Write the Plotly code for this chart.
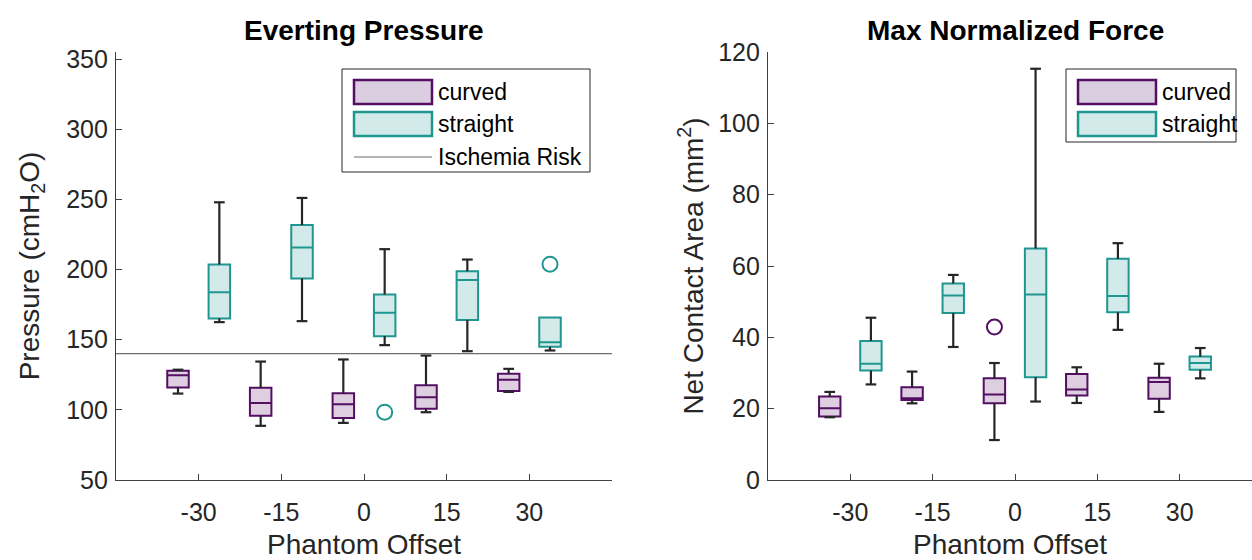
import plotly.graph_objects as go

# Phantom offsets (categories shared by both panels)
OFFSETS = [-30, -15, 0, 15, 30]
OFFSET_LABELS = ["-30", "-15", "0", "15", "30"]

# Everting pressure (cmH2O) - box statistics per offset
P_CURVED_LO = [111.6, 88.6, 90.7, 98.3, 112.8]
P_CURVED_Q1 = [115.9, 95.7, 94.1, 100.7, 113.5]
P_CURVED_MED = [124.7, 104.8, 104.0, 109.0, 121.4]
P_CURVED_Q3 = [127.8, 115.7, 111.9, 117.6, 125.7]
P_CURVED_HI = [128.6, 134.4, 135.9, 138.7, 129.2]

P_STRAIGHT_LO = [162.5, 163.2, 146.1, 141.8, 142.3]
P_STRAIGHT_Q1 = [165.1, 193.6, 152.5, 164.1, 144.9]
P_STRAIGHT_MED = [183.8, 215.7, 169.1, 192.6, 148.2]
P_STRAIGHT_Q3 = [203.6, 231.7, 182.2, 198.8, 165.8]
P_STRAIGHT_HI = [247.9, 251.0, 214.5, 207.1, 165.8]
P_STRAIGHT_OUT_X = [0, 30]
P_STRAIGHT_OUT_Y = [98.3, 203.8]

ISCHEMIA_RISK = 140

# Max normalized force: net contact area (mm^2) - box statistics per offset
A_CURVED_LO = [17.6, 21.5, 11.2, 21.6, 19.1]
A_CURVED_Q1 = [17.8, 22.4, 21.5, 23.7, 22.8]
A_CURVED_MED = [20.1, 22.9, 24.0, 25.4, 27.5]
A_CURVED_Q3 = [23.4, 26.0, 28.5, 29.7, 28.7]
A_CURVED_HI = [24.7, 30.4, 32.8, 31.6, 32.6]
A_CURVED_OUT_X = [0]
A_CURVED_OUT_Y = [42.9]

A_STRAIGHT_LO = [26.8, 37.3, 22.0, 42.1, 28.5]
A_STRAIGHT_Q1 = [30.7, 46.8, 28.8, 47.0, 30.9]
A_STRAIGHT_MED = [32.6, 51.7, 52.0, 51.6, 32.8]
A_STRAIGHT_Q3 = [39.0, 55.1, 64.9, 62.0, 34.6]
A_STRAIGHT_HI = [45.5, 57.5, 115.3, 66.4, 37.0]

# ---- styling ----
FONT = "Liberation Sans, Arial, sans-serif"
TXT = "#262626"
PURPLE = "rgb(84,14,100)"
PURPLE_FILL = "rgba(84,14,100,0.2)"
TEAL = "rgb(32,150,144)"
TEAL_FILL = "rgba(32,150,144,0.2)"
WHISKER = "#262626"
GROUP_SHIFT = {"curved": -3.75, "straight": 3.75}
BOX_W = 3.9
CAP_W = BOX_W * 0.5

W, H = 1252, 560
ML, MR, MT, MB = 116, 0, 52, 80
PW, PH = W - ML - MR, H - MT - MB


def px_x(px):
    return (px - ML) / PW


def px_y(py):
    return (H - MB - py) / PH


def shifted(xs, group):
    return [x + GROUP_SHIFT[group] for x in xs]


def whiskers(pos, q1, q3, lo, hi):
    xs, ys = [], []
    for p, a, b, l, h in zip(pos, q1, q3, lo, hi):
        if h > b:
            xs += [p, p, None, p - CAP_W / 2, p + CAP_W / 2, None]
            ys += [b, h, None, h, h, None]
        if l < a:
            xs += [p, p, None, p - CAP_W / 2, p + CAP_W / 2, None]
            ys += [a, l, None, l, l, None]
    return xs, ys


fig = go.Figure()


def add_group(xa, ya, group, color, fill, lo, q1, med, q3, hi, out_x=None, out_y=None):
    pos = shifted(OFFSETS, group)
    wx, wy = whiskers(pos, q1, q3, lo, hi)
    fig.add_trace(go.Scatter(x=wx, y=wy, mode="lines", xaxis=xa, yaxis=ya,
                             line=dict(color=WHISKER, width=2.2), showlegend=False,
                             hoverinfo="skip"))
    fig.add_trace(go.Box(x=pos, q1=q1, median=med, q3=q3, lowerfence=q1,
                         upperfence=q3, width=BOX_W, whiskerwidth=0,
                         xaxis=xa, yaxis=ya, name=group, boxpoints=False,
                         line=dict(color=color, width=2), fillcolor=fill,
                         showlegend=False))
    if out_x:
        fig.add_trace(go.Scatter(x=shifted(out_x, group), y=out_y, mode="markers",
                                 xaxis=xa, yaxis=ya, showlegend=False,
                                 marker=dict(symbol="circle-open", size=15,
                                             color=color, line=dict(width=2, color=color))))


# Left panel: everting pressure
fig.add_trace(go.Scatter(x=[-45, 45], y=[ISCHEMIA_RISK, ISCHEMIA_RISK], mode="lines",
                         xaxis="x", yaxis="y", line=dict(color="#6e6e6e", width=1.2),
                         showlegend=False, hoverinfo="skip"))
add_group("x", "y", "curved", PURPLE, PURPLE_FILL, P_CURVED_LO, P_CURVED_Q1,
          P_CURVED_MED, P_CURVED_Q3, P_CURVED_HI)
add_group("x", "y", "straight", TEAL, TEAL_FILL, P_STRAIGHT_LO, P_STRAIGHT_Q1,
          P_STRAIGHT_MED, P_STRAIGHT_Q3, P_STRAIGHT_HI, P_STRAIGHT_OUT_X, P_STRAIGHT_OUT_Y)

# Right panel: net contact area
add_group("x2", "y2", "curved", PURPLE, PURPLE_FILL, A_CURVED_LO, A_CURVED_Q1,
          A_CURVED_MED, A_CURVED_Q3, A_CURVED_HI, A_CURVED_OUT_X, A_CURVED_OUT_Y)
add_group("x2", "y2", "straight", TEAL, TEAL_FILL, A_STRAIGHT_LO, A_STRAIGHT_Q1,
          A_STRAIGHT_MED, A_STRAIGHT_Q3, A_STRAIGHT_HI)

axis_common = dict(showline=True, linecolor="#404040", linewidth=1.3, ticks="inside",
                   ticklen=6, tickwidth=1.2, tickcolor="#404040", showgrid=False,
                   zeroline=False, mirror=False,
                   tickfont=dict(family=FONT, size=25, color=TXT),
                   title_font=dict(family=FONT, size=28, color=TXT))

left_dom = [0, px_x(612)]
right_dom = [px_x(768), 1]
x2_max = (1252 - 1015) / ((1015 - 768) / 45)

fig.update_layout(
    width=W, height=H, margin=dict(l=ML, r=MR, t=MT, b=MB),
    paper_bgcolor="white", plot_bgcolor="white", boxmode="overlay",
    font=dict(family=FONT, color=TXT),
    xaxis=dict(domain=left_dom, range=[-45, 45], tickvals=OFFSETS, ticktext=OFFSET_LABELS,
               anchor="y", ticklabelstandoff=10,
               title=dict(text="Phantom Offset", standoff=9), **axis_common),
    yaxis=dict(domain=[0, 1], range=[50, 355], tickvals=[50, 100, 150, 200, 250, 300, 350],
               anchor="x", ticklabelstandoff=2,
               title=dict(text="Pressure (cmH<sub>2</sub>O)", standoff=18),
               **axis_common),
    xaxis2=dict(domain=right_dom, range=[-45, x2_max],
                tickvals=OFFSETS, ticktext=OFFSET_LABELS, anchor="y2", ticklabelstandoff=10,
                title=dict(text="Phantom Offset", standoff=9), **axis_common),
    yaxis2=dict(domain=[0, 1], range=[0, 120], tickvals=[0, 20, 40, 60, 80, 100, 120],
                anchor="x2", ticklabelstandoff=2,
                title=dict(text="Net Contact Area (mm<sup>2</sup>)", standoff=6),
                **axis_common),
)

# Panel titles
fig.add_annotation(x=(left_dom[0] + left_dom[1]) / 2, y=px_y(31), xref="paper", yref="paper",
                   text="<b>Everting Pressure</b>", showarrow=False, xanchor="center",
                   yanchor="middle", font=dict(family=FONT, size=28, color="black"))
fig.add_annotation(x=px_x(1015), y=px_y(31), xref="paper", yref="paper",
                   text="<b>Max Normalized Force</b>", showarrow=False, xanchor="center",
                   yanchor="middle", font=dict(family=FONT, size=28, color="black"))


# Legends drawn as framed keys inside each panel
def legend(box, entries):
    x0, y0, x1, y1 = box
    fig.add_shape(type="rect", xref="paper", yref="paper", x0=px_x(x0), x1=px_x(x1),
                  y0=px_y(y0), y1=px_y(y1), line=dict(color="#262626", width=1),
                  fillcolor="white", layer="above")
    for kind, color, fill, label, yc in entries:
        kx0, kx1 = x0 + 12, x0 + 90
        if kind == "patch":
            fig.add_shape(type="rect", xref="paper", yref="paper", x0=px_x(kx0), x1=px_x(kx1),
                          y0=px_y(yc + 12), y1=px_y(yc - 12),
                          line=dict(color=color, width=2.5), fillcolor=fill, layer="above")
        else:
            fig.add_shape(type="line", xref="paper", yref="paper", x0=px_x(kx0), x1=px_x(kx1),
                          y0=px_y(yc), y1=px_y(yc), line=dict(color=color, width=1.2),
                          layer="above")
        fig.add_annotation(x=px_x(kx1 + 4), y=px_y(yc), xref="paper", yref="paper",
                           text=label, showarrow=False, xanchor="left", yanchor="middle",
                           font=dict(family=FONT, size=23, color="black"))


legend((342, 69, 590, 172), [
    ("patch", PURPLE, "rgb(218,206,224)", "curved", 92),
    ("patch", TEAL, "rgb(210,234,233)", "straight", 124),
    ("line", "#6e6e6e", None, "Ischemia Risk", 157),
])
legend((1066, 69, 1236, 142), [
    ("patch", PURPLE, "rgb(218,206,224)", "curved", 92),
    ("patch", TEAL, "rgb(210,234,233)", "straight", 124),
])

fig.write_html("out.html")
